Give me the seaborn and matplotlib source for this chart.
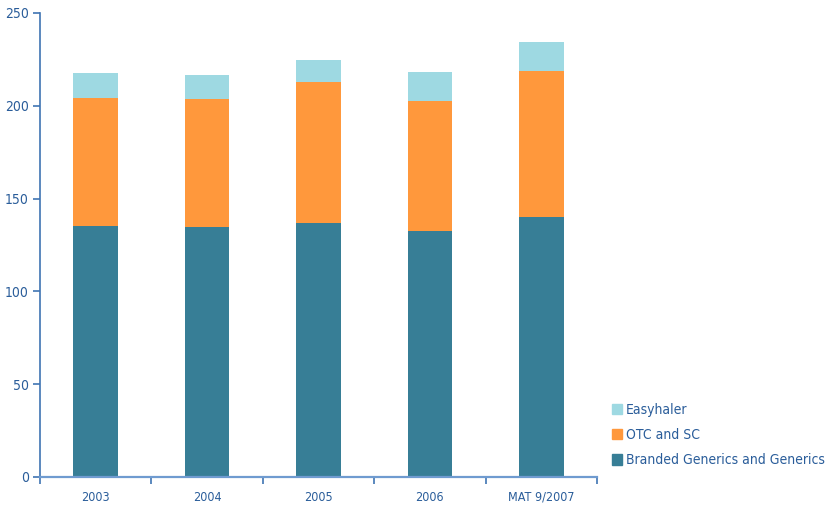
import matplotlib
matplotlib.use("Agg")
import matplotlib.pyplot as plt
import matplotlib.patches as mpatches
from matplotlib.ticker import FixedLocator
import seaborn as sns
import pandas as pd
import numpy as np

categories = ["2003", "2004", "2005", "2006", "MAT 9/2007"]
branded = [135.4, 134.9, 136.9, 132.5, 140.1]
otc = [68.8, 68.8, 75.9, 70.1, 78.7]
easyhaler = [13.5, 12.9, 11.9, 15.6, 15.6]
y_ticks = [0, 50, 100, 150, 200, 250]

c_branded = "#377e96"
c_otc = "#ff983c"
c_easy = "#9ed9e2"
c_text = "#2a5d9a"
c_axis = "#3f74b3"

sns.set_theme(style="white")
plt.rcParams["font.family"] = ["DejaVu Sans"]
plt.rcParams["font.stretch"] = "condensed"

df = pd.DataFrame({
    "cat": categories,
    "branded": branded,
    "otc": otc,
    "easy": easyhaler,
})
df["lvl1"] = df["branded"]
df["lvl2"] = df["branded"] + df["otc"]
df["lvl3"] = df["lvl2"] + df["easy"]

fig = plt.figure(figsize=(8.28, 5.08), dpi=100)
ax = fig.add_axes([40 / 828, 31 / 508, 557 / 828, 464 / 508])

# stacked bars: draw cumulative totals from the top layer down
for col, color in [("lvl3", c_easy), ("lvl2", c_otc), ("lvl1", c_branded)]:
    sns.barplot(data=df, x="cat", y=col, color=color, width=0.4,
                saturation=1, ax=ax, edgecolor="none", linewidth=0)

ax.set_xlim(-0.5, len(categories) - 0.5)
ax.set_ylim(0, 250)
ax.set_yticks(y_ticks)
ax.set_xlabel("")
ax.set_ylabel("")

for s in ["top", "right"]:
    ax.spines[s].set_visible(False)
ax.spines["left"].set_color(c_axis)
ax.spines["left"].set_linewidth(1.2)
ax.spines["bottom"].set_color("#6f9bd0")
ax.spines["bottom"].set_linewidth(1.6)

ax.tick_params(axis="y", direction="out", length=5, width=1.2, color=c_axis,
               labelcolor=c_text, labelsize=10, pad=3, left=True)
ax.tick_params(axis="x", which="major", length=0, labelcolor=c_text,
               labelsize=9, pad=10)
ax.xaxis.set_minor_locator(FixedLocator(np.arange(-0.5, len(categories), 1.0)))
ax.tick_params(axis="x", which="minor", direction="out", length=5, width=1.2,
               color=c_axis, bottom=True)

handles = [
    mpatches.Patch(color=c_easy, label="Easyhaler"),
    mpatches.Patch(color=c_otc, label="OTC and SC"),
    mpatches.Patch(color=c_branded, label="Branded Generics and Generics"),
]
leg = fig.legend(handles=handles, loc="upper left",
                 bbox_to_anchor=(606 / 828, 1 - 397 / 508),
                 frameon=False, fontsize=10, handlelength=0.75,
                 handleheight=0.75, handletextpad=0.3, labelspacing=0.82,
                 borderaxespad=0)
for t in leg.get_texts():
    t.set_color(c_text)

fig.savefig("out.png", dpi=100)
